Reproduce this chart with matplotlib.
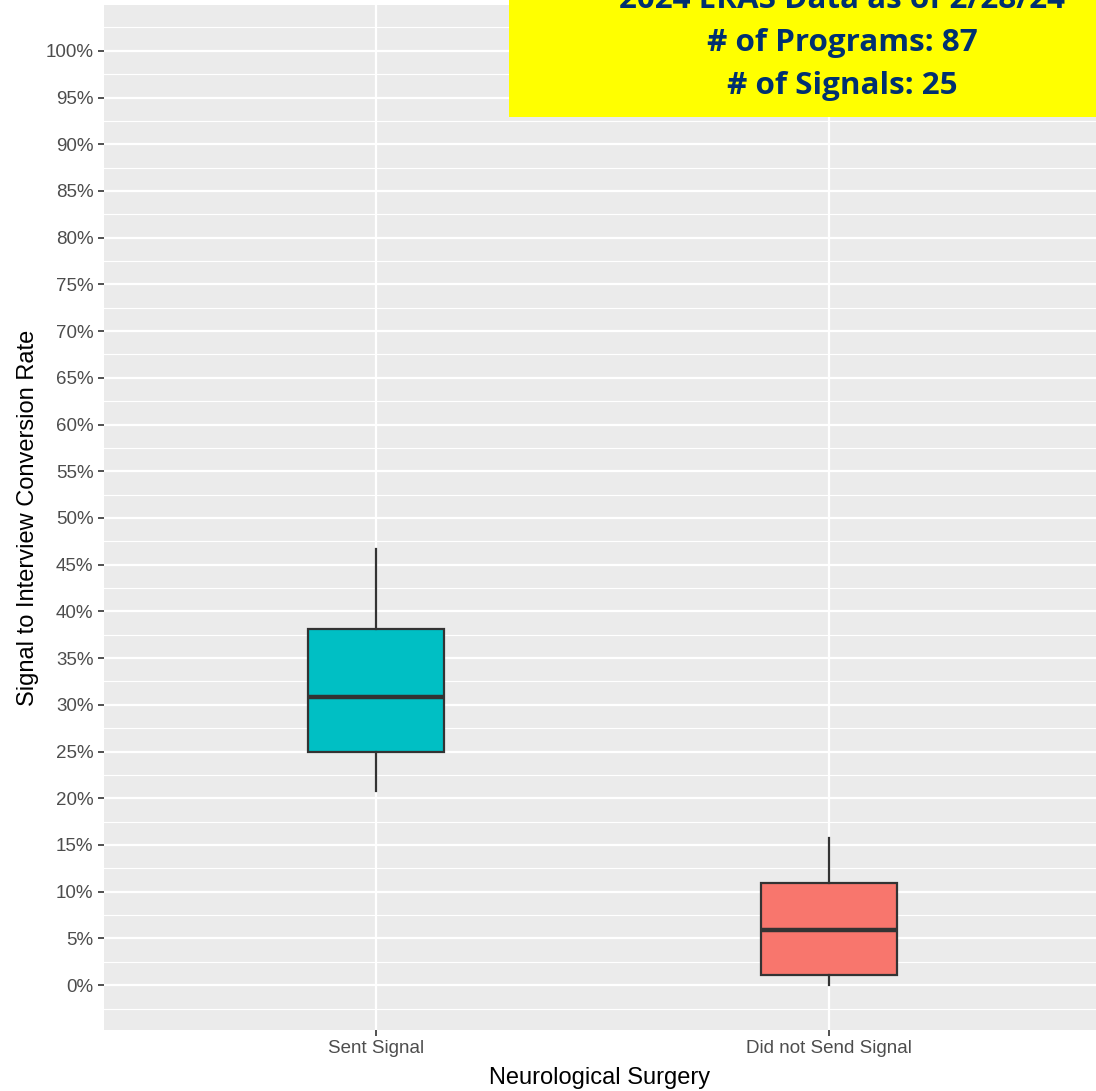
import matplotlib
matplotlib.use("Agg")
import matplotlib.pyplot as plt
from matplotlib.ticker import FixedLocator, PercentFormatter

# box plot statistics (fractions)
groups = ["Sent Signal", "Did not Send Signal"]
whisker_low = [0.208, 0.0]
q1 = [0.250, 0.011]
median = [0.308, 0.059]
q3 = [0.381, 0.109]
whisker_high = [0.467, 0.157]
fills = ["#00BFC4", "#F8766D"]

y_breaks = [i * 0.05 for i in range(21)]
y_minor = [-0.025 + i * 0.05 for i in range(23)]

header_lines = ["2024 ERAS Data as of 2/28/24", "# of Programs: 87", "# of Signals: 25"]

plt.rcParams["font.family"] = ["Liberation Sans", "DejaVu Sans"]

fig = plt.figure(figsize=(10.96, 10.91), dpi=100)
ax = fig.add_axes([104 / 1096, 1 - 1030 / 1091, 992 / 1096, 1025 / 1091])

stats = []
for i, g in enumerate(groups):
    stats.append(dict(label=g, whislo=whisker_low[i], q1=q1[i], med=median[i],
                      q3=q3[i], whishi=whisker_high[i], fliers=[]))

bp = ax.bxp(stats, positions=[1, 2], widths=0.3, patch_artist=True, showcaps=False,
            boxprops=dict(edgecolor="#333333", linewidth=1.6),
            whiskerprops=dict(color="#333333", linewidth=1.6),
            medianprops=dict(color="#333333", linewidth=3.2))
for patch, c in zip(bp["boxes"], fills):
    patch.set_facecolor(c)

ax.set_facecolor("#EBEBEB")
ax.set_xlim(0.4, 2.59)
ax.set_ylim(-0.048, 1.049)
ax.yaxis.set_major_locator(FixedLocator(y_breaks))
ax.yaxis.set_minor_locator(FixedLocator(y_minor))
ax.yaxis.set_major_formatter(PercentFormatter(1.0, decimals=0))
ax.grid(which="major", color="white", linewidth=1.6)
ax.grid(which="minor", axis="y", color="white", linewidth=0.8)
ax.set_axisbelow(True)
for s in ax.spines.values():
    s.set_visible(False)
ax.tick_params(axis="both", which="major", length=4, width=1.2, color="#333333",
               labelcolor="#4D4D4D", labelsize=13.5)
ax.tick_params(axis="y", which="minor", length=0)
ax.set_xticks([1, 2], groups)
ax.set_ylabel("Signal to Interview Conversion Rate", fontsize=17, color="black", labelpad=5)
ax.set_xlabel("Neurological Surgery", fontsize=17, color="black", labelpad=7)

# yellow header box in the top right
fig.patches.append(plt.Rectangle((509 / 1096, 1 - 117 / 1091), 587 / 1096, 117 / 1091,
                                 transform=fig.transFigure, facecolor="#FFFF00",
                                 edgecolor="none", zorder=5))
for y_px, line in zip([0, 43, 86], header_lines):
    fig.text(842 / 1096, 1 - y_px / 1091, line, ha="center", va="center",
             fontsize=22.6, fontweight="bold", color="#003070",
             family=["Open Sans", "DejaVu Sans"], zorder=6)

fig.savefig("out.png", dpi=100)
